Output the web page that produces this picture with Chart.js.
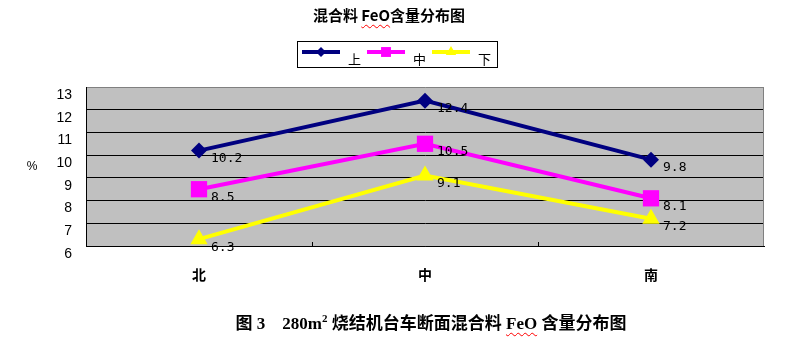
<!DOCTYPE html>
<html>
<head>
<meta charset="utf-8">
<script src="https://cdn.jsdelivr.net/npm/chart.js@4/dist/chart.umd.min.js"></script>
<style>
    body { margin: 0; background: #fff; }
    .wrap { position: relative; width: 802px; height: 351px; }
    canvas { position: absolute; left: 0; top: 0; }
    .title, .caption { position: absolute; left: 0; width: 802px; text-align: center; font-weight: bold; color: #000; white-space: pre; }
    .title { top: 4px; left: -12px; font-family: "Noto Sans CJK SC"; font-size: 15px; }
    .caption { top: 309px; left: 30px; font-family: "Liberation Serif", "Noto Sans CJK SC"; font-size: 17px; }
    .wavy { text-decoration: underline wavy red; text-decoration-thickness: 1px; text-underline-offset: 3px; }
</style>
</head>
<body>
<div class="wrap">
    <canvas id="feoChart" width="802" height="351"></canvas>
    <div class="title">混合料 <span class="wavy">FeO</span>含量分布图</div>
    <div class="caption">图 3    280m<sup style="font-size:11px">2</sup> 烧结机台车断面混合料 <span class="wavy">FeO</span> 含量分布图</div>
</div>
<script>
/* Chart data */
var categories = ['北', '中', '南'];
var upperValues = [10.2, 12.4, 9.8];   // 上
var middleValues = [8.5, 10.5, 8.1];   // 中
var lowerValues = [6.3, 9.1, 7.2];     // 下
var yTicks = [6, 7, 8, 9, 10, 11, 12, 13];

/* Colors */
var navy_color = '#000080';
var magenta_color = '#FF00FF';
var yellow_color = '#FFFF00';
var plot_color = '#C0C0C0';

/* Plot background, borders, value labels, legend and y title */
var decorPlugin = {
    id: 'decor',
    beforeDraw: function(chart) {
        var a = chart.chartArea;
        var ctx = chart.ctx;
        ctx.save();
        ctx.fillStyle = plot_color;
        ctx.fillRect(a.left, a.top, a.right - a.left, a.bottom - a.top);
        ctx.restore();
    },
    afterDraw: function(chart) {
        var a = chart.chartArea;
        var ctx = chart.ctx;
        ctx.save();

        // Right border
        ctx.strokeStyle = '#808080';
        ctx.lineWidth = 1;
        ctx.beginPath();
        ctx.moveTo(a.right - 0.5, a.top);
        ctx.lineTo(a.right - 0.5, a.bottom);
        ctx.stroke();

        // Small ticks between categories
        var xs = chart.scales.x;
        ctx.strokeStyle = '#000';
        for (var i = 0; i < categories.length - 1; i++) {
            var px = Math.round((xs.getPixelForValue(i) + xs.getPixelForValue(i + 1)) / 2) + 0.5;
            ctx.beginPath();
            ctx.moveTo(px, a.bottom);
            ctx.lineTo(px, a.bottom - 4);
            ctx.stroke();
        }

        // Value labels
        ctx.fillStyle = '#000';
        ctx.font = '13px "DejaVu Sans Mono"';
        ctx.textBaseline = 'middle';
        ctx.textAlign = 'left';
        chart.data.datasets.forEach(function(ds, d) {
            chart.getDatasetMeta(d).data.forEach(function(pt, j) {
                ctx.fillText(ds.data[j].toFixed(1), pt.x + 12, pt.y + 8);
            });
        });

        // Y axis title
        ctx.font = '12px "Liberation Sans"';
        ctx.textAlign = 'center';
        ctx.fillText('%', 32, 167);

        // Legend
        ctx.strokeStyle = '#000';
        ctx.strokeRect(297.5, 41.5, 200, 26);
        chart.data.datasets.forEach(function(ds, d) {
            var x0 = 302 + d * 65;
            ctx.strokeStyle = ds.borderColor;
            ctx.lineWidth = 4;
            ctx.beginPath();
            ctx.moveTo(x0, 52);
            ctx.lineTo(x0 + 38, 52);
            ctx.stroke();
            ctx.fillStyle = ds.borderColor;
            Chart.helpers.drawPoint(ctx, {
                pointStyle: ds.pointStyle,
                radius: ds.legendRadius,
                borderWidth: 0,
                rotation: 0
            }, x0 + 19, 52);
            ctx.fillStyle = '#000';
            ctx.font = '13px "Noto Sans CJK SC"';
            ctx.textAlign = 'left';
            ctx.fillText(ds.label, x0 + 46, 59);
        });
        ctx.restore();
    }
};

/* Build the chart */
var ctx = document.getElementById('feoChart');
var chart = new Chart(ctx, {
    type: 'line',
    data: {
        labels: categories,
        datasets: [{
            label: '上',
            data: upperValues,
            borderColor: navy_color,
            backgroundColor: navy_color,
            pointStyle: 'rectRot',
            pointRadius: 8,
            legendRadius: 5
        }, {
            label: '中',
            data: middleValues,
            borderColor: magenta_color,
            backgroundColor: magenta_color,
            pointStyle: 'rect',
            pointRadius: 11.5,
            legendRadius: 7
        }, {
            label: '下',
            data: lowerValues,
            borderColor: yellow_color,
            backgroundColor: yellow_color,
            pointStyle: 'triangle',
            pointRadius: 10,
            legendRadius: 6
        }]
    },
    options: {
        responsive: false,
        animation: false,
        layout: {
            padding: { left: 20, right: 38, top: 87, bottom: 0 }
        },
        elements: {
            line: { borderWidth: 4, tension: 0, fill: false },
            point: { borderWidth: 0, hoverRadius: 8 }
        },
        datasets: {
            line: { clip: false }
        },
        plugins: {
            legend: { display: false },
            tooltip: { enabled: false }
        },
        scales: {
            x: {
                offset: true,
                grid: { display: false, drawTicks: false },
                border: { color: '#000', width: 1 },
                ticks: {
                    color: '#000',
                    padding: 20,
                    font: { family: 'Noto Sans CJK SC', size: 14, weight: 'bold' }
                },
                afterFit: function(scale) { scale.height = 105; }
            },
            y: {
                min: yTicks[0],
                max: yTicks[yTicks.length - 1],
                afterBuildTicks: function(scale) {
                    scale.ticks = yTicks.map(function(v) { return { value: v }; });
                },
                grid: {
                    drawTicks: false,
                    color: function(c) { return c.tick && c.tick.value === 13 ? '#808080' : '#000'; }
                },
                border: { color: '#000', width: 1 },
                ticks: {
                    color: '#000',
                    padding: 14,
                    labelOffset: 8,
                    font: { family: 'Liberation Sans', size: 14 }
                },
                afterFit: function(scale) { scale.width = 66; }
            }
        }
    },
    plugins: [decorPlugin]
});
</script>
</body>
</html>
